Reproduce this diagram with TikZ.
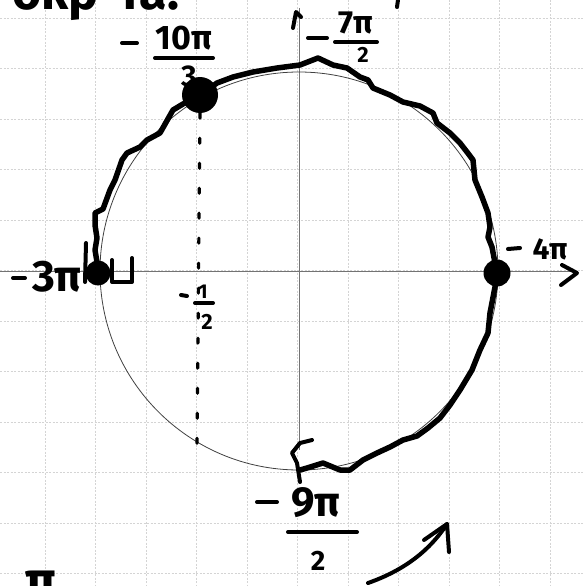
\documentclass[tikz,border=0pt]{standalone}
\usepackage{fontspec}
\setmainfont{Fira Sans}
\newcommand\hwsize[1]{\fontsize{#1}{#1}\selectfont\bfseries}
\begin{document}
\begin{tikzpicture}[x=1pt,y=-1pt,
  gridline/.style={draw=black!17, line width=0.8pt, dash pattern=on 2pt off 1.5pt},
  axisline/.style={draw=black!55, line width=0.8pt},
  ink/.style={draw=black, line width=4pt, line cap=round, line join=round},
  wig/.style={ink, line width=5.5pt},
  lbl/.style={inner sep=0pt, text=black},
  dotf/.style={circle, fill=black, inner sep=0pt}]
\useasboundingbox (0,0) rectangle (584,586);
% grid
\foreach \i in {0,...,10} \draw[gridline] ({45+50.5*\i},0) -- ({45+50.5*\i},586);
\foreach \i in {0,...,11} \draw[gridline] (0,{18+50.5*\i}) -- (584,{18+50.5*\i});
% axes
\coordinate (xl) at (0,271);
\coordinate (xr) at (575,271);
\coordinate (yt) at (299,8);
\coordinate (yb) at (299,450);
\draw[axisline] (xl) -- (xr);
\draw[axisline] (yt) -- (yb);
\draw[ink] (562,265) -- (577,273) -- (561,285);
\draw[ink] (293,28) -- (296,12) -- (301,17);
% thin circle
\coordinate (O) at (299,271);
\draw[black!75, line width=0.8pt] (O) circle[radius=199pt];
% wiggly arc
\draw[wig] plot coordinates {(98,273) (97,262) (95,250) (97,238) (95,225) (95,213) (103,209) (110,190) (115,180) (122,160) (127,153) (140,147) (147,140) (160,133) (173,110) (183,104) (200,95) (217,83) (233,77) (253,72) (277,68) (300,65) (318,58) (333,65) (347,68) (360,77) (368,80) (373,88) (390,95) (403,102) (420,106) (433,113) (437,123) (450,133) (460,143) (467,152) (473,160) (475,180) (482,197) (488,213) (490,227) (488,237) (492,247) (495,263) (497,273) (495,287) (490,313) (488,333) (480,350) (472,370) (460,390) (450,405) (440,418) (428,428) (417,436) (403,440) (390,447) (377,453) (363,460) (350,470) (340,470) (323,463) (307,468) (300,470)};
\draw[ink] (312,440) -- (300,443) -- (292,453) -- (297,463) -- (300,482);
% dots
\node[dotf, minimum size=36pt] (d1) at (200,95) {};
\node[dotf, minimum size=25pt] (d2) at (98,273) {};
\node[dotf, minimum size=27pt] (d3) at (497,273) {};
% dotted projection
\coordinate (dend) at (197,445);
\draw[line width=3.2pt, line cap=round, dash pattern=on 5pt off 20pt] (d1.south) -- (dend);
% label -10pi/3
\node[lbl, font=\hwsize{34}] (n10) at (184,38) {10π};
\draw[ink] (122,43) -- (137,43);
\draw[ink] (155,58) -- (213,58);
\node[lbl, font=\hwsize{30}] (dn3) at (189,76) {3};
% label -7pi/2
\node[lbl, font=\hwsize{32}] (n7) at (356,23) {7π};
\draw[ink] (308,38) -- (327,38);
\draw[ink] (335,42) -- (377,42);
\node[lbl, font=\hwsize{22}] (dn2a) at (363,55) {2};
% label -3pi
\node[lbl, font=\hwsize{44}] (n3) at (57,277) {3π};
\draw[ink] (13,278) -- (25,278);
\draw[ink] (86,243) -- (85,282);
\draw[ink] (112,260) -- (112,282) -- (132,282) -- (132,258);
% label -4pi
\node[lbl, font=\hwsize{30}] (n4) at (550,249) {4π};
\draw[ink] (508,249) -- (520,248);
% label -1/2
\node[lbl, font=\hwsize{20}] (n1) at (203,292) {1};
\draw[ink] (181,295) -- (187,296);
\draw[ink] (195,303) -- (213,303);
\node[lbl, font=\hwsize{22}] (dn2b) at (207,322) {2};
% label -9pi/2
\node[lbl, font=\hwsize{42}] (n9) at (316,503) {9π};
\draw[ink] (257,502) -- (277,502);
\draw[ink] (288,532) -- (357,532);
\node[lbl, font=\hwsize{28}] (dn2c) at (318,561) {2};
% bottom arrow
\coordinate (as) at (368,583);
\coordinate (ae) at (447,524);
\draw[ink] (as) .. controls (405,570) and (430,550) .. (ae);
\draw[ink] (424,540) -- (ae) -- (449,552);
% texts cut by the edge, as in the reference
\node[lbl, font=\hwsize{50}, anchor=base west] (title) at (12,10) {окр-та.};
\draw[ink] (398,0) -- (397,7);
\node[lbl, font=\hwsize{50}, anchor=north west] (pi) at (25,571) {π};
\end{tikzpicture}
\end{document}
